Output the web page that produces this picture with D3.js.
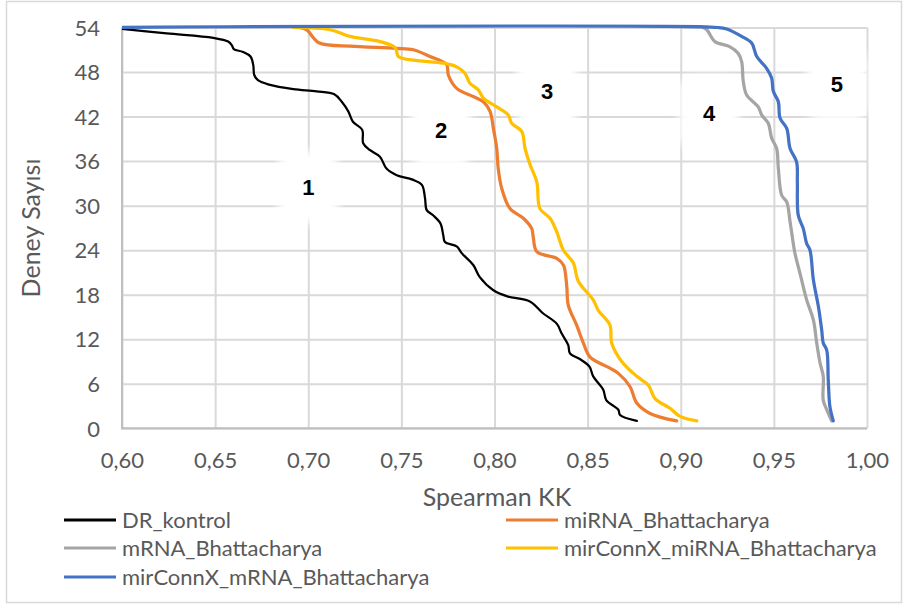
<!DOCTYPE html>
<html>
<head>
<meta charset="utf-8">
<script src="https://cdn.jsdelivr.net/npm/d3@7/dist/d3.min.js"></script>
<style>
  html, body { margin: 0; padding: 0; background: #fff; }
  svg { display: block; }
</style>
</head>
<body>
<svg id="chart" width="906" height="608"></svg>
<script>
// Sorted Spearman correlations per experiment: [Spearman KK, deney sayısı]
const drKontrol = [
  [0.600,53.8],[0.624,53.2],[0.649,52.6],[0.657,52.1],[0.659,51.6],[0.660,51.1],[0.665,50.7],
  [0.669,50.1],[0.6705,48.9],[0.671,47.6],[0.673,46.9],[0.679,46.3],[0.692,45.7],[0.7045,45.4],
  [0.714,45.0],[0.718,44.0],[0.7215,42.7],[0.724,41.3],[0.729,40.2],[0.7295,38.4],[0.733,37.5],
  [0.7385,36.6],[0.742,35.0],[0.7475,34.1],[0.756,33.5],[0.761,32.8],[0.7627,31.0],[0.7636,29.4],
  [0.767,28.7],[0.771,27.6],[0.7725,26.0],[0.7734,25.1],[0.7797,24.5],[0.7824,23.6],[0.7886,22.0],
  [0.792,20.4],[0.7994,18.6],[0.8065,17.8],[0.819,17.1],[0.826,15.5],[0.8334,14.1],[0.836,12.8],
  [0.8396,11.2],[0.8405,10.1],[0.846,9.3],[0.851,8.3],[0.853,7.0],[0.8584,5.2],[0.860,3.8],
  [0.8665,2.5],[0.8674,1.8],[0.8764,1.0]
];
const miRNA = [
  [0.695,54],[0.699,53.7],[0.706,51.9],[0.7224,51.5],[0.7296,51.4],[0.7475,51.2],[0.7564,51.0],
  [0.7654,50.1],[0.7743,49.0],[0.7752,47.6],[0.7797,45.8],[0.7886,44.7],[0.794,44.0],[0.7976,42.7],
  [0.7994,40.4],[0.8012,37.7],[0.802,35.0],[0.8039,32.3],[0.8083,29.6],[0.8155,28.3],[0.820,26.9],
  [0.8208,25.8],[0.8227,23.8],[0.8334,22.9],[0.837,22.0],[0.8388,19.1],[0.8396,16.6],[0.8441,13.9],
  [0.8477,11.5],[0.8513,9.6],[0.862,8.1],[0.8665,7.4],[0.8728,5.6],[0.8764,3.4],[0.8835,2.0],
  [0.8978,1.0]
];
const mRNA = [
  [0.912,54],[0.914,53.7],[0.9184,52.1],[0.9265,51.4],[0.9309,50.5],[0.9327,49.4],[0.9336,46.7],
  [0.9354,44.9],[0.9416,43.3],[0.9435,42.2],[0.947,41.1],[0.9488,39.1],[0.9515,37.7],[0.9524,35.0],
  [0.9542,31.4],[0.9569,30.5],[0.9587,27.8],[0.9596,26.3],[0.9613,23.6],[0.964,20.9],[0.9676,17.3],
  [0.9712,14.6],[0.973,11.5],[0.9748,8.8],[0.9765,7.0],[0.9765,3.8],[0.9784,2.5],[0.981,1.0]
];
const mirConnXmiRNA = [
  [0.692,54],[0.7117,53.7],[0.7224,52.8],[0.7385,52.1],[0.7466,51.3],[0.7484,50.1],[0.7564,49.6],
  [0.7725,49.2],[0.7797,48.7],[0.7842,47.8],[0.7868,46.5],[0.7913,45.6],[0.794,44.5],[0.8012,43.3],
  [0.8074,42.2],[0.8092,41.1],[0.8146,40.0],[0.8164,37.7],[0.8191,35.5],[0.8227,33.2],[0.8244,29.6],
  [0.8298,28.3],[0.8334,26.5],[0.837,24.0],[0.8423,22.3],[0.845,19.8],[0.853,17.3],[0.8557,15.9],
  [0.862,13.9],[0.8629,11.5],[0.8683,9.0],[0.8764,7.0],[0.8826,5.8],[0.8862,4.0],[0.8942,2.7],
  [0.8996,1.6],[0.9086,1.0]
];
const mirConnXmRNA = [
  [0.600,54],[0.920,54],[0.9247,53.8],[0.9327,52.8],[0.9381,51.9],[0.9408,50.1],[0.9461,48.5],
  [0.9488,47.2],[0.9497,45.4],[0.9524,44.0],[0.9533,41.8],[0.9569,40.4],[0.9587,37.7],[0.9622,35.9],
  [0.9626,33.2],[0.9631,28.7],[0.9658,26.9],[0.9676,24.9],[0.9694,24.0],[0.9712,20.0],[0.9739,16.4],
  [0.9757,13.2],[0.9765,11.5],[0.9784,10.5],[0.9792,6.5],[0.9801,2.9],[0.9819,1.0]
];

const seriesNames = ["DR_kontrol", "miRNA_Bhattacharya", "mRNA_Bhattacharya",
                     "mirConnX_miRNA_Bhattacharya", "mirConnX_mRNA_Bhattacharya"];
const seriesData = [drKontrol, miRNA, mRNA, mirConnXmiRNA, mirConnXmRNA];
const seriesColors = ["#000000", "#ED7D31", "#A5A5A5", "#FFC000", "#4472C4"];
const seriesWidths = [2.25, 3.25, 3.25, 3.25, 3.25];

const xTicks = [0.60, 0.65, 0.70, 0.75, 0.80, 0.85, 0.90, 0.95, 1.00];
const yTicks = [0, 6, 12, 18, 24, 30, 36, 42, 48, 54];

// Numbered callouts beside each curve
const calloutText = ["1", "2", "3", "4", "5"];
const calloutX = [0.700, 0.7713, 0.8282, 0.9152, 0.9838];
const calloutY = [32.5, 40.1, 45.4, 42.5, 46.3];

const xTitle = "Spearman KK";
const yTitle = "Deney Sayısı";

// ---- layout ----
const W = 906, H = 608;
const plot = { left: 122, right: 867, top: 27.5, bottom: 428.3 };
const FONT = "Lato, 'Open Sans', sans-serif";
const TEXT_COLOR = "#595959";

const svg = d3.select("#chart");

// outer chart frame
svg.append("rect")
  .attr("x", 6.5).attr("y", 1.5).attr("width", 895).attr("height", 601)
  .attr("fill", "#fff").attr("stroke", "#D9D9D9").attr("stroke-width", 1.5);

const x = d3.scaleLinear().domain([0.60, 1.00]).range([plot.left, plot.right]);
const y = d3.scaleLinear().domain([0, 54]).range([plot.bottom, plot.top]);

const fmt = d => d3.format(".2f")(d).replace(".", ",");

// gridlines
const grid = svg.append("g");
grid.append("g")
  .attr("transform", `translate(0,${plot.bottom})`)
  .call(d3.axisBottom(x).tickValues(xTicks).tickSize(-(plot.bottom - plot.top)).tickFormat(""))
  .call(g => g.select(".domain").remove())
  .call(g => g.selectAll("line").attr("stroke", "#D9D9D9").attr("stroke-width", 2));
grid.append("g")
  .attr("transform", `translate(${plot.left},0)`)
  .call(d3.axisLeft(y).tickValues(yTicks).tickSize(-(plot.right - plot.left)).tickFormat(""))
  .call(g => g.select(".domain").remove())
  .call(g => g.selectAll("line").attr("stroke", "#D9D9D9").attr("stroke-width", 2));

// axis lines
svg.append("line")
  .attr("x1", plot.left).attr("x2", plot.left).attr("y1", plot.top).attr("y2", plot.bottom + 1)
  .attr("stroke", "#BFBFBF").attr("stroke-width", 2);
svg.append("line")
  .attr("x1", plot.left - 1).attr("x2", plot.right).attr("y1", plot.bottom).attr("y2", plot.bottom)
  .attr("stroke", "#BFBFBF").attr("stroke-width", 2);

// tick labels
const xAxis = svg.append("g")
  .attr("transform", `translate(0,${plot.bottom + 20})`)
  .call(d3.axisBottom(x).tickValues(xTicks).tickSize(0).tickFormat(fmt));
xAxis.select(".domain").remove();
xAxis.selectAll("text")
  .attr("font-family", FONT).attr("font-size", 22).attr("fill", TEXT_COLOR)
  .attr("dy", "0.35em").attr("y", 12);

const yAxis = svg.append("g")
  .attr("transform", `translate(${plot.left - 22},0)`)
  .call(d3.axisLeft(y).tickValues(yTicks).tickSize(0).tickFormat(d3.format("d")));
yAxis.select(".domain").remove();
yAxis.selectAll("text")
  .attr("font-family", FONT).attr("font-size", 22).attr("fill", TEXT_COLOR)
  .attr("x", 0).attr("dy", "0.35em");

// axis titles
svg.append("text")
  .attr("x", 497).attr("y", 497).attr("dy", "0.35em")
  .attr("text-anchor", "middle")
  .attr("font-family", FONT).attr("font-size", 25).attr("fill", TEXT_COLOR)
  .text(xTitle);
svg.append("text")
  .attr("transform", "translate(31,228) rotate(-90)")
  .attr("dy", "0.35em")
  .attr("text-anchor", "middle")
  .attr("font-family", FONT).attr("font-size", 25).attr("fill", TEXT_COLOR)
  .text(yTitle);

// callout backgrounds (soft-edged white boxes)
const defs = svg.append("defs");
defs.append("filter").attr("id", "soft").attr("x", "-50%").attr("y", "-50%")
  .attr("width", "200%").attr("height", "200%")
  .append("feGaussianBlur").attr("stdDeviation", 4);
defs.append("clipPath").attr("id", "plotClip")
  .append("rect")
  .attr("x", plot.left).attr("y", plot.top - 3)
  .attr("width", plot.right - plot.left).attr("height", plot.bottom - plot.top + 6);

const callouts = svg.append("g");
calloutText.forEach((t, i) => {
  callouts.append("rect")
    .attr("x", x(calloutX[i]) - 30).attr("y", y(calloutY[i]) - 36)
    .attr("width", 60).attr("height", 72).attr("rx", 14)
    .attr("fill", "#fff").attr("filter", "url(#soft)");
});

// series lines
const line = d3.line()
  .x(d => x(d[0])).y(d => y(d[1]))
  .curve(d3.curveCatmullRom.alpha(0.5));

const lines = svg.append("g").attr("clip-path", "url(#plotClip)");
seriesData.forEach((data, i) => {
  lines.append("path")
    .datum(data)
    .attr("d", line)
    .attr("fill", "none")
    .attr("stroke", seriesColors[i])
    .attr("stroke-width", seriesWidths[i])
    .attr("stroke-linejoin", "round")
    .attr("stroke-linecap", "round");
});

// callout numbers
calloutText.forEach((t, i) => {
  svg.append("text")
    .attr("x", x(calloutX[i])).attr("y", y(calloutY[i]))
    .attr("dy", "0.35em").attr("text-anchor", "middle")
    .attr("font-family", "'Liberation Sans', Arial, sans-serif")
    .attr("font-weight", "bold").attr("font-size", 22).attr("fill", "#000")
    .text(t);
});

// legend
const legendX = [64, 506];
const legendRowY = [520, 548, 577];
const legend = svg.append("g");
seriesNames.forEach((name, i) => {
  const col = i % 2, row = Math.floor(i / 2);
  const lx = legendX[col], ly = legendRowY[row];
  legend.append("line")
    .attr("x1", lx).attr("x2", lx + 52).attr("y1", ly).attr("y2", ly)
    .attr("stroke", seriesColors[i]).attr("stroke-width", 3);
  legend.append("text")
    .attr("x", lx + 58).attr("y", ly).attr("dy", "0.35em")
    .attr("font-family", FONT).attr("font-size", 22).attr("fill", TEXT_COLOR)
    .text(name);
});
</script>
</body>
</html>
